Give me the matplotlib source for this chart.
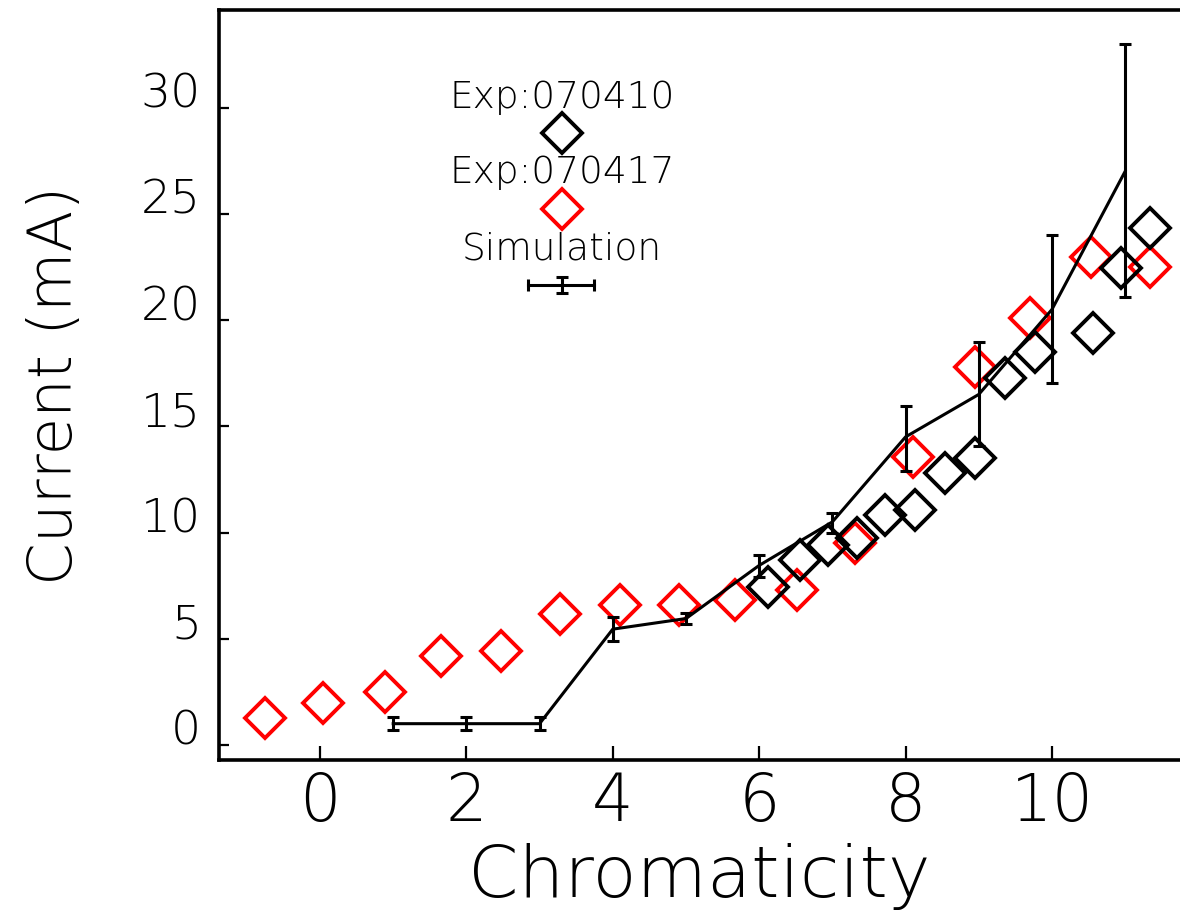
import matplotlib
matplotlib.use("Agg")
import matplotlib.pyplot as plt
import numpy as np

# ---- data ----
exp0410_x = [6.12, 6.56, 6.94, 7.34, 7.72, 8.13, 8.54, 8.95, 9.36, 9.77, 10.56, 10.94, 11.34]
exp0410_y = [7.44, 8.71, 9.42, 9.75, 10.83, 11.07, 12.81, 13.52, 17.29, 18.51, 19.41, 22.47, 24.35]

exp0417_x = [-0.75, 0.04, 0.89, 1.65, 2.47, 3.28, 4.10, 4.90, 5.67, 6.52, 7.31, 8.10, 8.95, 9.70, 10.53, 11.34]
exp0417_y = [1.27, 1.98, 2.50, 4.19, 4.43, 6.17, 6.59, 6.59, 6.83, 7.30, 9.51, 13.57, 17.80, 20.11, 22.99, 22.52]

sim_x = [1, 2, 3, 4, 5, 6, 7, 8, 9, 10, 11]
sim_y = [1.0, 1.0, 1.0, 5.45, 5.95, 8.45, 10.5, 14.5, 16.5, 20.5, 27.0]
sim_lo = [0.7, 0.7, 0.7, 4.9, 5.7, 7.9, 10.0, 12.9, 14.05, 17.05, 21.1]
sim_hi = [1.3, 1.3, 1.3, 6.0, 6.2, 8.95, 10.93, 15.97, 18.98, 24.02, 33.0]

xticks = [0, 2, 4, 6, 8, 10]
yticks = [0, 5, 10, 15, 20, 25, 30]

plt.rcParams['font.family'] = ['DejaVu Sans']
plt.rcParams['font.weight'] = 'light'
plt.rcParams['axes.labelweight'] = 'light'

fig = plt.figure(figsize=(11.8, 9.15), dpi=100)
ax = fig.add_axes([219/1180, 155/915, 961/1180, 750/915])
ax.set_xlim(-1.38, 11.75)
ax.set_ylim(-0.71, 34.6)

mk = dict(marker='D', ms=20, mew=2.8, mfc='none', ls='none')
ax.plot(exp0417_x, exp0417_y, mec='#ff0000', **mk)
ax.plot(exp0410_x, exp0410_y, mec='black', **mk)

yerr = [np.array(sim_y) - np.array(sim_lo), np.array(sim_hi) - np.array(sim_y)]
ax.errorbar(sim_x, sim_y, yerr=yerr, color='black', lw=2.2, elinewidth=2.2,
            capsize=4, capthick=2.2)

# legend (manual, IDL style)
lx = 0.357
ax.text(lx, 0.8827, 'Exp:070410', transform=ax.transAxes, ha='center', va='center', fontsize=27)
ax.plot([lx], [0.836], transform=ax.transAxes, mec='black', **mk)
ax.text(lx, 0.784, 'Exp:070417', transform=ax.transAxes, ha='center', va='center', fontsize=27)
ax.plot([lx], [0.7347], transform=ax.transAxes, mec='#ff0000', **mk)
ax.text(lx, 0.6813, 'Simulation', transform=ax.transAxes, ha='center', va='center', fontsize=27)
ax.plot([0.3215, 0.390], [0.6333, 0.6333], transform=ax.transAxes, color='black', lw=2.2,
        marker='|', ms=8, mew=2.2)
ax.errorbar([lx], [0.6333], yerr=[[0.011], [0.011]], transform=ax.transAxes,
            color='black', lw=2.2, capsize=4, capthick=2.2)

ax.set_xticks(xticks)
ax.set_yticks(yticks)
ax.tick_params(axis='x', direction='in', length=10, width=1.6, labelsize=47, pad=8)
ax.tick_params(axis='y', direction='in', length=7, width=1.6, labelsize=34, pad=13)
for lab in ax.get_yticklabels():
    lab.set_va('baseline')

for s in ['left', 'bottom', 'top']:
    ax.spines[s].set_linewidth(2.6)
ax.spines['right'].set_visible(False)

ax.set_xlabel('Chromaticity', fontsize=52, labelpad=6, fontweight='light')
ax.set_ylabel('Current (mA)', fontsize=44, labelpad=40, fontweight='light')

fig.savefig('out.png', dpi=100)
